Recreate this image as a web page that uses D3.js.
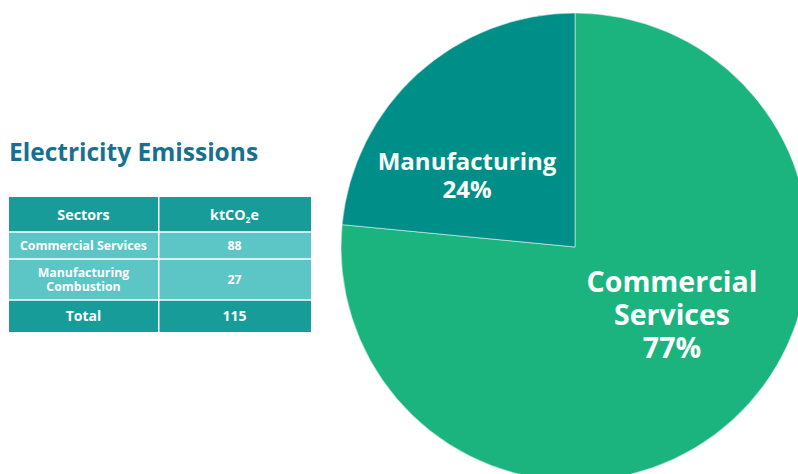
<!DOCTYPE html>
<html><head><meta charset="utf-8">
<script src="https://cdn.jsdelivr.net/npm/d3@7"></script>
<style>html,body{margin:0;padding:0;background:#fff;overflow:hidden}svg{display:block;font-family:"Open Sans",sans-serif}</style>
</head><body>
<svg id="c" width="798" height="474"></svg>
<script>
const sectors = ["Commercial Services", "Manufacturing Combustion"];
const sectorLines = [["Commercial Services"], ["Manufacturing", "Combustion"]];
const values = [88, 27];
const pieLabels = [["Commercial", "Services"], ["Manufacturing"]];
const pctLabels = ["77%", "24%"];
const colors = ["#1bb47f", "#008f88"];
const title = "Electricity Emissions";
const total = 115;

const svg = d3.select("#c");

// Pie
const cx = 575, cy = 247, R = 234;
const pie = d3.pie().sort(null).startAngle(0).endAngle(2 * Math.PI);
const arcs = pie(values);
const arc = d3.arc().innerRadius(0).outerRadius(R);
const g = svg.append("g").attr("transform", `translate(${cx},${cy})`);
g.selectAll("path").data(arcs).join("path")
  .attr("d", arc).attr("fill", (d, i) => colors[i])
  .attr("stroke", "#dff3ee").attr("stroke-width", 0.6);

// pie labels
const labelPos = [{x: 672 - cx, y: 292 - cy, fs: 28.5, lh: 33}, {x: 467 - cx, y: 170 - cy, fs: 24, lh: 28}];
arcs.forEach((a, i) => {
  const p = labelPos[i];
  const lines = pieLabels[i].concat([pctLabels[i]]);
  const t = g.append("text").attr("text-anchor", "middle").attr("fill", "#fff")
    .attr("font-weight", 700).attr("font-size", p.fs);
  lines.forEach((l, k) => t.append("tspan").attr("x", p.x).attr("y", p.y + k * p.lh).text(l));
});

// Title
svg.append("text").attr("x", 9).attr("y", 161).attr("fill", "#17708f")
  .attr("font-weight", 700).attr("font-size", 24.5).text(title);

// Table
const tx = 9, tw = 302, col = 149;
const rowsY = [197, 232, 259, 300, 332];
const fills = ["#179c99", "#5cc6c6", "#5cc6c6", "#179c99"];
const tbl = svg.append("g");
const rowData = [
  {a: ["Sectors"], b: "ktCO", head: true},
  {a: sectorLines[0], b: String(values[0])},
  {a: sectorLines[1], b: String(values[1])},
  {a: ["Total"], b: String(total), tot: true}
];
rowData.forEach((r, i) => {
  const y0 = rowsY[i], y1 = rowsY[i + 1];
  tbl.append("rect").attr("x", tx).attr("y", y0).attr("width", col).attr("height", y1 - y0).attr("fill", fills[i]);
  tbl.append("rect").attr("x", tx + col + 1.5).attr("y", y0).attr("width", tw - col - 1.5).attr("height", y1 - y0).attr("fill", fills[i]);
  const fs = r.head ? 14.3 : (r.tot ? 14 : 12.3);
  const mid = (y0 + y1) / 2;
  const lh = 13.5;
  const ta = tbl.append("text").attr("text-anchor", "middle").attr("fill", "#fff")
    .attr("font-weight", 700).attr("font-size", fs);
  r.a.forEach((l, k) => ta.append("tspan").attr("x", tx + col / 2)
    .attr("y", mid + fs * 0.36 + (k - (r.a.length - 1) / 2) * lh).text(l));
  const tb = tbl.append("text").attr("text-anchor", "middle").attr("fill", "#fff")
    .attr("font-weight", 700).attr("font-size", fs)
    .attr("x", tx + col + (tw - col) / 2).attr("y", mid + fs * 0.36);
  if (r.head) {
    tb.append("tspan").text("ktCO");
    tb.append("tspan").attr("font-size", 8.5).attr("dy", 3).text("2");
    tb.append("tspan").attr("dy", -3).text("e");
  } else tb.text(r.b);
});
rowsY.slice(1, -1).forEach(y => tbl.append("line").attr("x1", tx).attr("x2", tx + tw)
  .attr("y1", y).attr("y2", y).attr("stroke", "#fff").attr("stroke-width", 1.5));
</script>
</body></html>
